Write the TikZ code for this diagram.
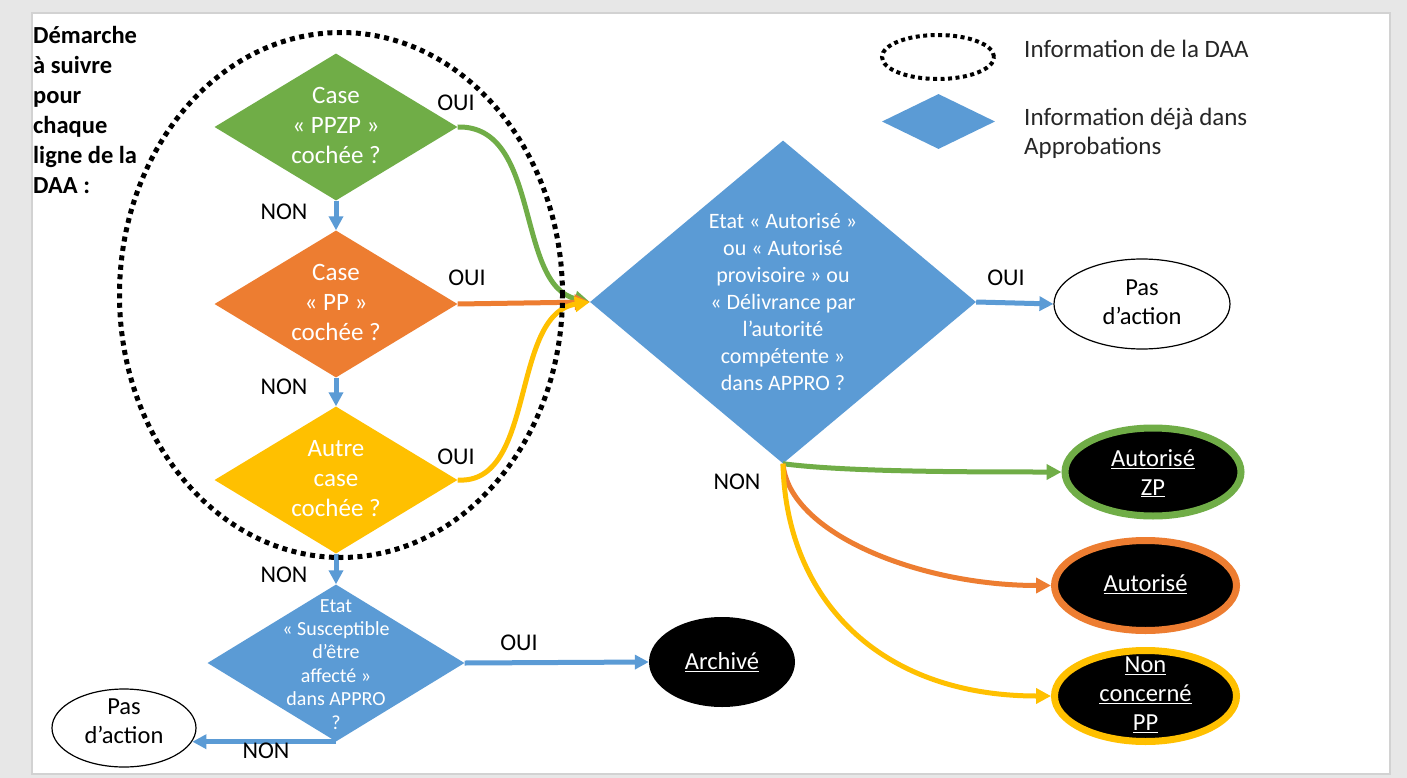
\documentclass[tikz,border=0pt]{standalone}
\usepackage{fontspec}
\setmainfont{Carlito}
\usetikzlibrary{shapes.geometric,arrows.meta}
\definecolor{cgreen}{HTML}{70AD47}
\definecolor{corange}{HTML}{ED7D31}
\definecolor{cyellow}{HTML}{FFC000}
\definecolor{cblue}{HTML}{5B9BD5}
\definecolor{bggray}{HTML}{E7E7E7}
\definecolor{framegray}{HTML}{D2D2D2}
\definecolor{legtext}{HTML}{262626}
\newcommand{\mytab}[2][0pt]{\smash{\raisebox{\dimexpr-0.25em+#1\relax}{\begin{tabular}{@{}c@{}}#2\end{tabular}}}}
\newcommand{\toptab}[1]{\begin{tabular}[t]{@{}l@{}}#1\end{tabular}}
\tikzset{
  dia/.style={diamond, inner sep=0pt, text=white},
  lab/.style={inner sep=0pt, font=\fontsize{24}{30}\selectfont},
  blk/.style={ellipse, fill=black, text=white, inner sep=0pt, font=\fontsize{24.5}{29}\selectfont},
  wht/.style={ellipse, draw=black, line width=1.2pt, fill=white, inner sep=0pt, font=\fontsize{24.5}{29}\selectfont},
  arr/.style={line width=5pt, -{Triangle[length=15pt,width=15pt]}},
  barr/.style={line width=5pt, draw=cblue, -{Triangle[length=14pt,width=14pt]}},
  dotline/.style={draw=black, line width=5pt, dash pattern=on 5pt off 4.5pt},
}
\begin{document}
\begin{tikzpicture}[x=1pt,y=-1pt]
\useasboundingbox (0,0) rectangle (1407,778);
\fill[bggray] (0,0) rectangle (1407,778);
\draw[fill=white, draw=framegray, line width=1.5pt] (32,13) rectangle (1390,774);

% title
\node[anchor=base west, inner sep=0pt, font=\bfseries\fontsize{24.5}{30}\selectfont] (title) at (33,44)
  {\toptab{Démarche\\à suivre\\pour\\chaque\\ligne de la\\DAA :}};

% legend
\node[ellipse, draw=black, line width=4pt, dash pattern=on 4pt off 3.5pt, minimum width=112pt, minimum height=44pt, inner sep=0pt] (legE) at (938,57) {};
\node[diamond, fill=cblue, minimum width=113pt, minimum height=55pt, inner sep=0pt] (legD) at (938.5,121.5) {};
\node[anchor=base west, inner sep=0pt, font=\fontsize{25}{29}\selectfont, text=legtext] (legEt) at (1024,58) {Information de la DAA};
\node[anchor=base west, inner sep=0pt, font=\fontsize{25}{29}\selectfont, text=legtext] (legDt) at (1024,126) {\toptab{Information déjà dans\\Approbations}};

% diamonds
\node[dia, fill=cgreen, aspect=1.65, minimum width=243pt, minimum height=147pt, font=\fontsize{25}{30}\selectfont] (d1) at (336,127) {\mytab{Case\\« PPZP »\\cochée ?}};
\node[dia, fill=corange, aspect=1.65, minimum width=243pt, minimum height=147pt, font=\fontsize{25}{30}\selectfont] (d2) at (336,304) {\mytab{Case\\« PP »\\cochée ?}};
\node[dia, fill=cyellow, aspect=1.65, minimum width=243pt, minimum height=147pt, font=\fontsize{25}{30}\selectfont] (d3) at (336,480) {\mytab{Autre\\case\\cochée ?}};
\node[dia, fill=cblue, aspect=1.64, minimum width=257pt, minimum height=157pt, font=\fontsize{20}{23.4}\selectfont] (d4) at (336,663) {\mytab[-3pt]{Etat\\« Susceptible\\d’être\\affecté »\\dans APPRO\\?}};
\node[dia, fill=cblue, aspect=1.2, minimum width=386pt, minimum height=323pt, font=\fontsize{22}{27}\selectfont] (d5) at (783,302) {\mytab[-2pt]{Etat « Autorisé »\\ou « Autorisé\\provisoire » ou\\« Délivrance par\\l’autorité\\compétente »\\dans APPRO ?}};

% ellipses
\node[blk, minimum width=146pt, minimum height=90pt] (arch) at (722,662) {\mytab[-2pt]{\underline{Archivé}}};
\node[wht, minimum width=144pt, minimum height=78pt] (pasL) at (124,728) {\mytab[5pt]{Pas\\d’action}};
\node[wht, minimum width=176pt, minimum height=90pt] (pasR) at (1142,304) {\mytab{Pas\\d’action}};
\node[blk, draw=cgreen, line width=7pt, minimum width=176pt, minimum height=88pt] (zp) at (1153,472) {\mytab[-3pt]{\underline{Autorisé}\\\underline{ZP}}};
\node[blk, draw=corange, line width=7pt, minimum width=182pt, minimum height=90pt] (aut) at (1145.5,585.5) {\mytab{\underline{Autorisé}}};
\node[blk, draw=cyellow, line width=7pt, minimum width=182pt, minimum height=91pt] (npp) at (1145.5,696) {\mytab{\underline{Non}\\\underline{concerné}\\\underline{PP}}};

% connectors
\draw[barr] (d1.south) -- (d2.north);
\draw[barr] (d2.south) -- (d3.north);
\draw[barr] (d3.south) -- (d4.north);
\draw[barr] (d4.east) -- (arch.west);
\draw[barr] (d4.south) -- (d4.south -| pasL.-11.7);
\draw[barr] (d5.east) -- (pasR.west);

\draw[arr, draw=cgreen] (d1.east) .. controls +(84,-2) and +(-75,-17) .. (d5.west);
\draw[arr, draw=corange] (d2.east) -- (d5.west);
\draw[arr, draw=cyellow] (d3.east) .. controls +(79,5) and +(-80,12) .. (d5.west);

\draw[arr, draw=cgreen] (d5.south) .. controls +(60,8) and +(-100,0) .. (zp.west);
\draw[arr, draw=corange] (d5.south) .. controls +(6,70) and +(-131,0) .. (aut.west);
\draw[arr, draw=cyellow] (d5.south) .. controls +(3,136) and +(-171,0) .. (npp.west);

% labels
\node[lab] (n1) at (284,212) {NON};
\node[lab] (n2) at (284,387) {NON};
\node[lab] (n3) at (284,575) {NON};
\node[lab] (n4) at (266,751) {NON};
\node[lab] (n5) at (737,482) {NON};
\node[lab] (o1) at (456,103) {OUI};
\node[lab] (o2) at (467,278) {OUI};
\node[lab] (o3) at (456,457) {OUI};
\node[lab] (o4) at (519,643) {OUI};
\node[lab] (o5) at (1006,278) {OUI};

% DAA dotted ellipse
\node[ellipse, dotline, minimum width=443pt, minimum height=525pt, inner sep=0pt] (daa) at (341,295) {};
\end{tikzpicture}
\end{document}
